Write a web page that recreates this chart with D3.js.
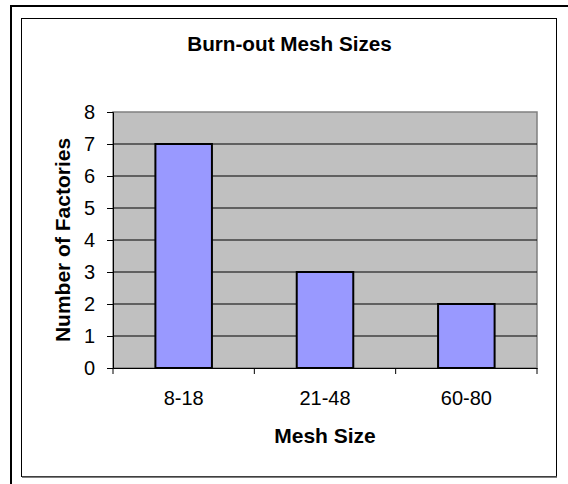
<!DOCTYPE html>
<html><head><meta charset="utf-8">
<script src="https://cdn.jsdelivr.net/npm/d3@7"></script>
<style>body{margin:0;background:#fff;}svg{display:block;font-family:"Liberation Sans",Arial,sans-serif;}</style>
</head><body><svg id="c" width="568" height="484"></svg>
<script>
const categories = ["8-18", "21-48", "60-80"];
const values = [7, 3, 2];
const yTicks = [0, 1, 2, 3, 4, 5, 6, 7, 8];
const title = "Burn-out Mesh Sizes";
const xTitle = "Mesh Size";
const yTitle = "Number of Factories";

const svg = d3.select("#c");
// outer frame
svg.append("rect").attr("x", 11).attr("y", 6).attr("width", 600).attr("height", 600)
  .attr("fill", "none").attr("stroke", "#000").attr("stroke-width", 2);
// chart area frame
svg.append("rect").attr("x", 21.5).attr("y", 18.5).attr("width", 535).attr("height", 458)
  .attr("fill", "#fff").attr("stroke", "#000").attr("stroke-width", 1);
svg.append("line").attr("x1", 22).attr("x2", 557).attr("y1", 477).attr("y2", 477).attr("stroke", "#555").attr("stroke-width", 1.5);

const L = 113, R = 537, T = 112, B = 368;
const x = d3.scaleBand().domain(categories).range([L, R]).paddingInner(0.6).paddingOuter(0.3);
const xb = d3.scaleBand().domain(categories).range([L, R]);
const y = d3.scaleLinear().domain([0, 8]).range([B, T]);

svg.append("rect").attr("x", L).attr("y", T).attr("width", R - L).attr("height", B - T)
  .attr("fill", "#c0c0c0").attr("stroke", "#808080").attr("stroke-width", 1.5);

svg.append("g").selectAll("line").data(yTicks.filter(d => d > 0 && d < 8)).join("line")
  .attr("x1", L).attr("x2", R).attr("y1", d => y(d)).attr("y2", d => y(d))
  .attr("stroke", "#000").attr("stroke-width", 1);

svg.append("g").selectAll("rect").data(values).join("rect")
  .attr("x", (d, i) => x(categories[i])).attr("width", x.bandwidth())
  .attr("y", d => y(d)).attr("height", d => B - y(d))
  .attr("fill", "#9999ff").attr("stroke", "#000").attr("stroke-width", 2);

// y axis
const ya = svg.append("g").attr("transform", `translate(${L},0)`)
  .call(d3.axisLeft(y).tickValues(yTicks).tickSize(6).tickPadding(12));
ya.attr("font-size", 20).attr("font-family", "Liberation Sans, Arial, sans-serif");
ya.select(".domain").attr("stroke", "#000");
ya.selectAll("text").attr("fill", "#000");
ya.selectAll("line").attr("stroke", "#000");

// x axis
const xa = svg.append("g").attr("transform", `translate(0,${B})`)
  .call(d3.axisBottom(xb).tickSize(0).tickPadding(23));
xa.attr("font-size", 20).attr("font-family", "Liberation Sans, Arial, sans-serif");
xa.select(".domain").attr("stroke", "#000");
xa.selectAll("text").attr("fill", "#000");
// category boundary ticks
svg.append("g").selectAll("line").data(categories).join("line")
  .attr("x1", d => xb(d) + xb.bandwidth()).attr("x2", d => xb(d) + xb.bandwidth())
  .attr("y1", B).attr("y2", B + 6).attr("stroke", "#000");
svg.append("line").attr("x1", L).attr("x2", L).attr("y1", B).attr("y2", B + 6).attr("stroke", "#000");

svg.append("text").attr("x", 289.5).attr("y", 51).attr("text-anchor", "middle")
  .attr("font-size", 20.7).attr("font-weight", "bold").text(title);
svg.append("text").attr("x", (L + R) / 2).attr("y", 443).attr("text-anchor", "middle")
  .attr("font-size", 21).attr("font-weight", "bold").text(xTitle);
svg.append("text").attr("transform", `translate(70,${(T + B) / 2}) rotate(-90)`).attr("text-anchor", "middle")
  .attr("font-size", 21).attr("font-weight", "bold").text(yTitle);
</script></body></html>
